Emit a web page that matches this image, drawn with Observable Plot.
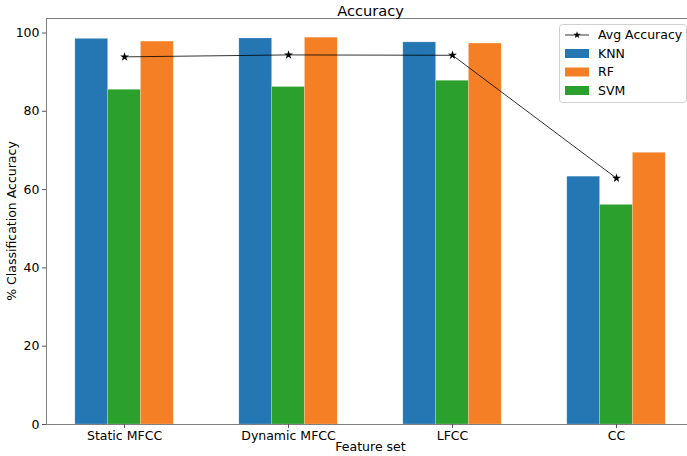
<!DOCTYPE html>
<html>
<head>
<meta charset="utf-8">
<script src="https://cdn.jsdelivr.net/npm/d3@7"></script>
<script src="https://cdn.jsdelivr.net/npm/@observablehq/plot@0.6"></script>
<style>
  html, body { margin: 0; padding: 0; background: #fff; }
  svg { font-family: "DejaVu Sans", sans-serif; }
</style>
</head>
<body>
<div id="chart"></div>
<script>
const categories = ["Static MFCC", "Dynamic MFCC", "LFCC", "CC"];
const knn = [98.5, 98.6, 97.6, 63.3];
const svm = [85.5, 86.2, 87.8, 56.1];
const rf  = [97.8, 98.8, 97.3, 69.4];
const avgAccuracy = [93.9, 94.4, 94.3, 62.9];
const yTicks = [0, 20, 40, 60, 80, 100];

const models = [
  {name: "KNN", values: knn, color: "#2577b4", slot: -1},
  {name: "SVM", values: svm, color: "#2ca02c", slot: 0},
  {name: "RF",  values: rf,  color: "#f47f24", slot: 1}
];
const barWidth = 0.2;

const bars = [];
models.forEach(m => categories.forEach((c, i) => {
  bars.push({i, cat: c, model: m.name, value: m.values[i], color: m.color,
             x1: i + m.slot * barWidth - barWidth / 2, x2: i + m.slot * barWidth + barWidth / 2});
}));
const avg = categories.map((c, i) => ({i, cat: c, value: avgAccuracy[i]}));

const W = 687, H = 456, ML = 46, MT = 18, MB = 32;
const chart = Plot.plot({
  width: W, height: H,
  marginLeft: ML, marginRight: 0, marginTop: MT, marginBottom: MB,
  style: {fontFamily: "DejaVu Sans, sans-serif", fontSize: "12.5px", color: "#000", background: "#fff"},
  x: {domain: [-0.476, 3.433], ticks: categories.map((c, i) => i), tickFormat: i => categories[i], tickSize: 4, label: null},
  y: {domain: [0, 103.7], ticks: yTicks, tickSize: 4, label: null},
  marks: [
    Plot.rectY(bars, {x1: "x1", x2: "x2", y1: 0, y2: "value", fill: "color", stroke: "#ffffff", strokeOpacity: 0.35, strokeWidth: 0.6}),
    Plot.line(avg, {x: "i", y: "value", stroke: "#000", strokeWidth: 0.8}),
    Plot.dot(avg, {x: "i", y: "value", symbol: "star", fill: "#000", r: 2.8}),
    Plot.ruleY([0], {stroke: "#7f7f7f", strokeWidth: 1}),
    Plot.frame({anchor: "left", stroke: "#7f7f7f", strokeWidth: 1}),
    Plot.frame({anchor: "top", stroke: "#7f7f7f", strokeWidth: 1}),
    Plot.axisX({ticks: categories.map((c, i) => i), tickFormat: i => categories[i], tickSize: 4, fontSize: 12.5, tickPadding: 3, stroke: "#555"}),
    Plot.axisY({ticks: yTicks, tickSize: 4, fontSize: 12.5, tickPadding: 3, stroke: "#555"})
  ]
});
document.getElementById("chart").appendChild(chart);

const svg = d3.select(chart);
const cx = ML + (W + 8 - ML) / 2;
svg.append("text").attr("x", cx).attr("y", 16).attr("text-anchor", "middle")
  .attr("font-size", 14.6).attr("fill", "#000").text("Accuracy");
svg.append("text").attr("x", cx).attr("y", 451).attr("text-anchor", "middle")
  .attr("font-size", 12.5).attr("fill", "#000").text("Feature set");
svg.append("text").attr("transform", `translate(16, ${(MT + H - MB) / 2}) rotate(-90)`)
  .attr("text-anchor", "middle").attr("font-size", 12.5).attr("fill", "#000")
  .text("% Classification Accuracy");

// legend
const lg = svg.append("g").attr("transform", "translate(559, 24)");
lg.append("rect").attr("x", 0.5).attr("y", 0.5).attr("width", 127).attr("height", 78).attr("rx", 3)
  .attr("fill", "#fff").attr("fill-opacity", 0.8).attr("stroke", "#d0d0d0");
const legendItems = [
  {name: "Avg Accuracy", type: "line"},
  {name: "KNN", color: "#2577b4"},
  {name: "RF", color: "#f47f24"},
  {name: "SVM", color: "#2ca02c"}
];
legendItems.forEach((d, k) => {
  const y = 11 + k * 18.5;
  if (d.type === "line") {
    lg.append("line").attr("x1", 6).attr("x2", 30).attr("y1", y).attr("y2", y).attr("stroke", "#000").attr("stroke-width", 0.8);
    lg.append("path").attr("d", d3.symbol(d3.symbolStar, 16)()).attr("transform", `translate(18, ${y})`).attr("fill", "#000");
  } else {
    lg.append("rect").attr("x", 6).attr("y", y - 4.5).attr("width", 24).attr("height", 9).attr("fill", d.color);
  }
  lg.append("text").attr("x", 39).attr("y", y).attr("dy", "0.35em").attr("text-anchor", "start")
    .attr("font-size", 12.5).attr("fill", "#000").text(d.name);
});
</script>
</body>
</html>
